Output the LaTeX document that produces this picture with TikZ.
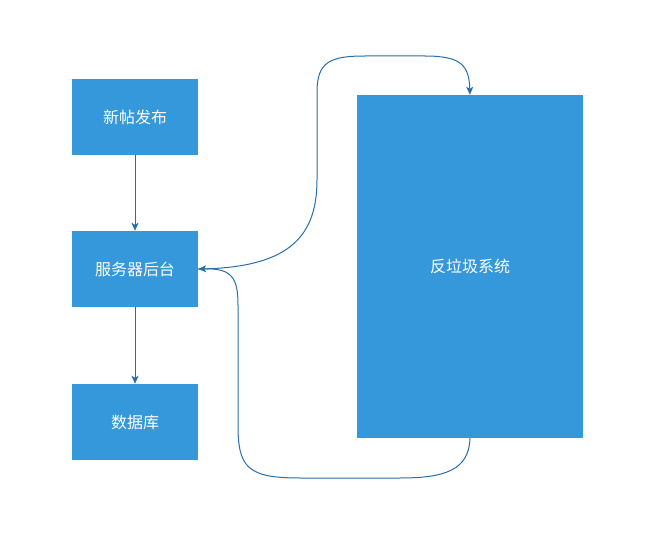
\documentclass[tikz,border=0pt]{standalone}
\usepackage{fontspec}
\newfontfamily\cjk{Noto Sans CJK SC}
\usetikzlibrary{arrows.meta}
\definecolor{boxblue}{RGB}{52,152,219}
\definecolor{linkblue}{RGB}{40,110,168}
\tikzset{
  block/.style={rectangle,fill=boxblue,text=white,font=\cjk\fontsize{16}{19}\selectfont,inner sep=0pt},
  link/.style={draw=linkblue,line width=1pt,-{Stealth[length=8pt,width=7pt,inset=2pt]}}
}
\begin{document}
\begin{tikzpicture}[x=1pt,y=-1pt]

      \useasboundingbox (0,0) rectangle (646,535);

      \begin{scope}[every node/.style={block,minimum width=126pt,minimum height=76pt}]
        \node (post)   at (135,117) {新帖发布};
        \node (server) at (135,269) {服务器后台};
        \node (db)     at (135,422) {数据库};
      \end{scope}
      \node[block,minimum width=226pt,minimum height=343pt] (spam) at (470,266.5) {反垃圾系统};

      \path[link] (post) -- (server);
      \path[link] (server) -- (db);
      \path[link] (server.east) .. controls (285,268) and (317,240) .. (317,180)
        -- (317,92) .. controls (317,62) and (330,56) .. (365,56)
        -- (425,56) .. controls (462,56) and (469,66) .. (spam.north);
      \path[link] (spam.south) .. controls (469,470) and (445,478) .. (400,478)
        -- (300,478) .. controls (248,478) and (238,468) .. (238,425)
        -- (238,305) .. controls (238,278) and (232,268) .. (server.east);

    \end{tikzpicture}
\end{document}
